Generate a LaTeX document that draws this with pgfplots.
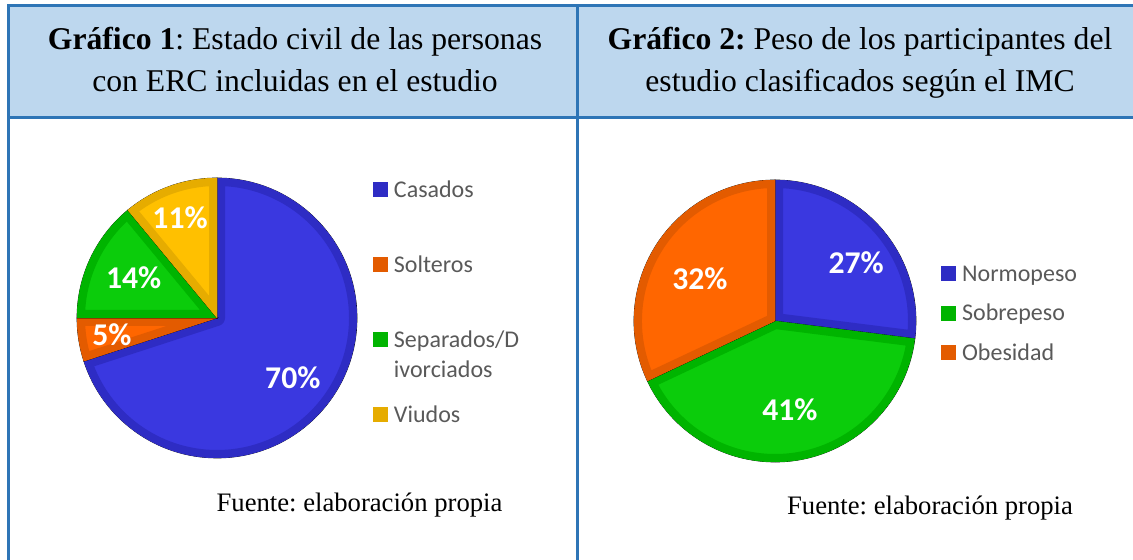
\documentclass[border=0pt]{standalone}
\usepackage{fontspec}
\setmainfont{Liberation Serif}
\newfontfamily\carlito{Carlito}
\usepackage{pgfplots}
\pgfplotsset{compat=1.18}
\frenchspacing

\definecolor{hdr}{HTML}{BDD7EE}
\definecolor{frm}{HTML}{2E75B6}
\definecolor{blueM}{HTML}{3A38E0}
\definecolor{blueD}{HTML}{2E2CC4}
\definecolor{orM}{HTML}{FF6600}
\definecolor{orD}{HTML}{E35B00}
\definecolor{grM}{HTML}{0BCC0B}
\definecolor{grD}{HTML}{00B400}
\definecolor{yeM}{HTML}{FFC000}
\definecolor{yeD}{HTML}{E6AC00}
\definecolor{legtxt}{HTML}{595959}

\def\pieR{84}
\def\pieBW{9.6}
\gdef\pieStart{90}
\newcommand\twolines[2]{\vtop{\hbox{#1}\hbox{#2}}}

\pgfplotsset{
  pieslice/.style n args={2}{
    scatter, only marks, mark=*, mark size=0.1pt,
    visualization depends on={value \thisrow{pct}\as\pct},
    visualization depends on={value \thisrow{la}\as\labang},
    visualization depends on={value \thisrow{ld}\as\labdist},
    scatter/@pre marker code/.code={%
      \pgfmathsetmacro\slst{\pieStart}%
      \pgfmathsetmacro\slen{\pieStart-3.6*\pct}%
      \pgfmathsetmacro\labr{\labdist*\pieR}%
      \pgfscope
        \pgfsetfillopacity{1}\pgfsetstrokeopacity{1}%
        \clip (0pt,0pt) -- (\slst:\pieR pt) arc[start angle=\slst, end angle=\slen, radius=\pieR pt] -- cycle;
        \fill[#1, draw=#2, line width=\pieBW pt, line join=round] (0pt,0pt) -- (\slst:\pieR pt) arc[start angle=\slst, end angle=\slen, radius=\pieR pt] -- cycle;
      \endpgfscope
      \node[text=white, inner sep=0pt, font=\carlito\bfseries\fontsize{19}{22}\selectfont] at (\labang:\labr pt) {\pct\%};
      \xdef\pieStart{\slen}%
      \pgfscope
      \pgfsetfillopacity{0}\pgfsetstrokeopacity{0}%
    },
    scatter/@post marker code/.code={\endpgfscope},
    legend image code/.code={\fill[#2] (0pt,-4.4pt) rectangle (8.4pt,4pt);},
  },
  pieaxis/.style={
    scale only axis, width=2*\pieR pt, height=2*\pieR pt,
    xmin=-1, xmax=1, ymin=-1, ymax=1, hide axis, clip=false,
    anchor=center, legend cell align=left,
  },
}

\begin{document}
\begin{tikzpicture}
\path[use as bounding box] (0pt,0pt) rectangle (679.8pt,336pt);
% header
\fill[hdr] (5.1pt,265.5pt) rectangle (679.8pt,332.7pt);
\draw[frm, line width=1.8pt] (4.2pt,332.7pt) -- (679.8pt,332.7pt);
\draw[frm, line width=1.8pt] (4.2pt,265.5pt) -- (679.8pt,265.5pt);
\draw[frm, line width=1.8pt] (5.1pt,0pt) -- (5.1pt,333.6pt);
\draw[frm, line width=1.8pt] (346.5pt,0pt) -- (346.5pt,333.6pt);

\node[anchor=base, font=\fontsize{19}{25}\selectfont] at (177pt,306pt) {\textbf{Gráfico 1}: Estado civil de las personas};
\node[anchor=base, font=\fontsize{19}{25}\selectfont] at (177pt,280.8pt) {con ERC incluidas en el estudio};
\node[anchor=base, font=\fontsize{19}{25}\selectfont] at (516pt,306pt) {\textbf{Gráfico 2:} Peso de los participantes del};
\node[anchor=base, font=\fontsize{19}{25}\selectfont] at (516pt,280.8pt) {estudio clasificados según el IMC};

\node[anchor=base, font=\fontsize{16}{19}\selectfont] at (215.7pt,28.8pt) {Fuente: elaboración propia};
\node[anchor=base, font=\fontsize{16}{19}\selectfont] at (558pt,27pt) {Fuente: elaboración propia};

% Pie 1
\def\pieR{84}
\gdef\pieStart{90}
\begin{axis}[pieaxis, at={(130.2pt,145.2pt)},
  legend style={draw=none, fill=none, at={(1.057,0.992)}, anchor=north west,
    inner sep=0pt, row sep=35pt, column sep=3.6pt,
    font=\carlito\fontsize{14.4}{18}\selectfont, text=legtxt,
    nodes={inner sep=0pt, text height=10pt, text depth=0pt}}]
\addplot[pieslice={blueM}{blueD}] table {
x y pct la ld
0 0 70 -38.3 0.69
};
\addlegendentry{Casados}
\addplot[pieslice={orM}{orD}] table {
x y pct la ld
0 0 5 189.2 0.76
};
\addlegendentry{Solteros}
\addplot[pieslice={grM}{grD}] table {
x y pct la ld
0 0 14 154.5 0.66
};
\addlegendentry{\twolines{Separados/D}{ivorciados}}
\addplot[pieslice={yeM}{yeD}] table {
x y pct la ld
0 0 11 110.3 0.76
};
\addlegendentry{Viudos}
\end{axis}

% Pie 2
\def\pieR{84.6}
\gdef\pieStart{90}
\begin{axis}[pieaxis, at={(465pt,143.4pt)},
  legend style={draw=none, fill=none, at={(1.089,0.701)}, anchor=north west,
    inner sep=0pt, row sep=13.8pt, column sep=3.6pt,
    font=\carlito\fontsize{14.4}{18}\selectfont, text=legtxt,
    nodes={inner sep=0pt, text height=10pt, text depth=0pt}}]
\addplot[pieslice={blueM}{blueD}] table {
x y pct la ld
0 0 27 35.8 0.71
};
\addlegendentry{Normopeso}
\addplot[pieslice={grM}{grD}] table {
x y pct la ld
0 0 41 -80.5 0.64
};
\addlegendentry{Sobrepeso}
\addplot[pieslice={orM}{orD}] table {
x y pct la ld
0 0 32 150.8 0.61
};
\addlegendentry{Obesidad}
\end{axis}
\end{tikzpicture}
\end{document}
